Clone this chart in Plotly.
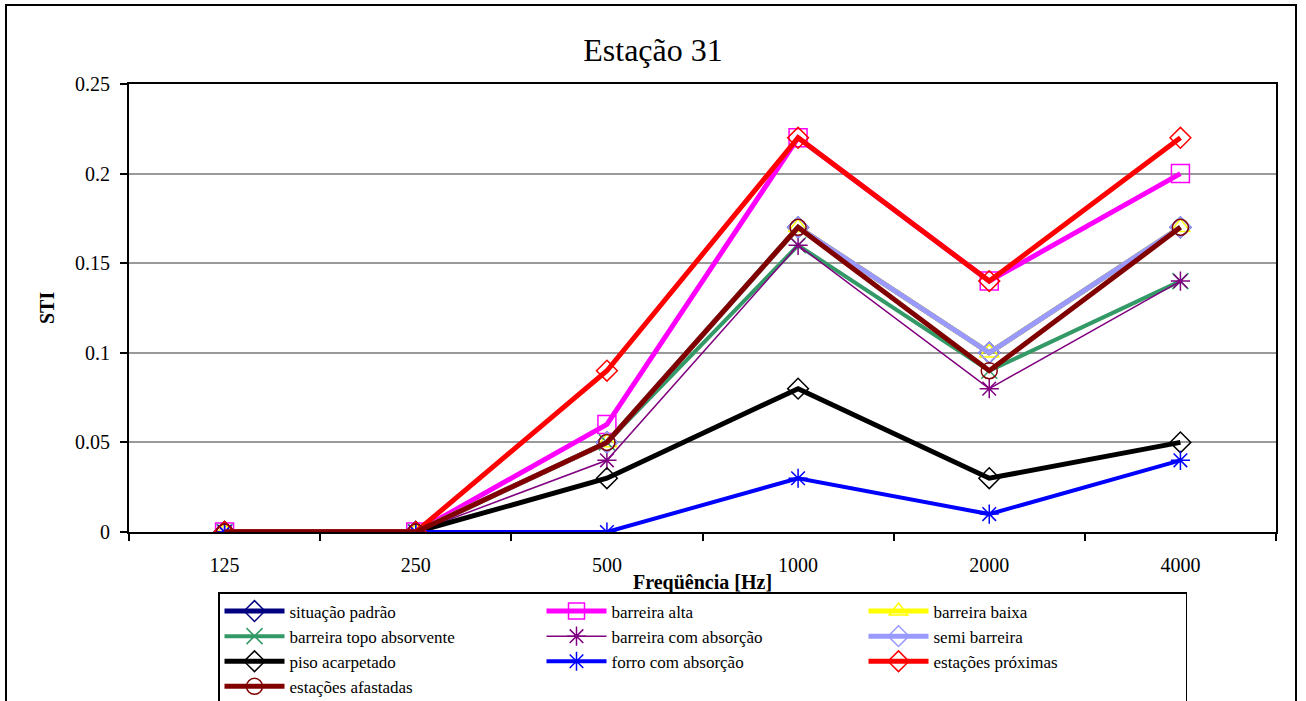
import plotly.graph_objects as go

freqs = ["125", "250", "500", "1000", "2000", "4000"]

situacao_padrao = [0, 0, 0.05, 0.17, 0.10, 0.17]
barreira_alta = [0, 0, 0.06, 0.22, 0.14, 0.20]
barreira_baixa = [0, 0, 0.05, 0.17, 0.10, 0.17]
barreira_topo_absorvente = [0, 0, 0.05, 0.16, 0.09, 0.14]
barreira_com_absorcao = [0, 0, 0.04, 0.16, 0.08, 0.14]
semi_barreira = [0, 0, 0.05, 0.17, 0.10, 0.17]
piso_acarpetado = [0, 0, 0.03, 0.08, 0.03, 0.05]
forro_com_absorcao = [0, 0, 0.00, 0.03, 0.01, 0.04]
estacoes_proximas = [0, 0, 0.09, 0.22, 0.14, 0.22]
estacoes_afastadas = [0, 0, 0.05, 0.17, 0.09, 0.17]

series = [
    ("situação padrão", situacao_padrao, "#000080", "diamond-open", 5, 16),
    ("barreira alta", barreira_alta, "#FF00FF", "square-open", 5, 18),
    ("barreira baixa", barreira_baixa, "#FFFF00", "triangle-up-open", 5, 17),
    ("barreira topo absorvente", barreira_topo_absorvente, "#339966", "x-thin-open", 4, 16),
    ("barreira com absorção", barreira_com_absorcao, "#800080", "asterisk-open", 1.5, 16),
    ("semi barreira", semi_barreira, "#9999FF", "diamond-open", 5, 16),
    ("piso acarpetado", piso_acarpetado, "#000000", "diamond-open", 5, 16),
    ("forro com absorção", forro_com_absorcao, "#0000FF", "asterisk-open", 4, 16),
    ("estações próximas", estacoes_proximas, "#FF0000", "diamond-open", 5, 16),
    ("estações afastadas", estacoes_afastadas, "#800000", "circle-open", 5, 16),
]

FONT = "Liberation Serif, Times New Roman, serif"

fig = go.Figure()
for name, vals, color, sym, lw, ms in series:
    fig.add_trace(go.Scatter(
        x=freqs, y=vals, name=name, mode="lines+markers",
        line=dict(color=color, width=lw),
        marker=dict(symbol=sym, size=ms, color=color, line=dict(color=color, width=1.5)),
    ))

fig.update_layout(
    width=1306, height=701,
    margin=dict(l=129, r=30, t=84, b=169, autoexpand=False),
    paper_bgcolor="white", plot_bgcolor="white",
    font=dict(family=FONT, size=20, color="black"),
    title=dict(text="Estação 31", x=0.5, xanchor="center", y=1 - 50 / 701, yanchor="middle",
               font=dict(family=FONT, size=32, color="black")),
    showlegend=True,
    legend=dict(
        orientation="h", x=0.5, xanchor="center", y=-60 / 448, yanchor="top",
        bordercolor="black", borderwidth=1.5, bgcolor="white",
        font=dict(family=FONT, size=17, color="black"),
        itemwidth=60, entrywidth=247, entrywidthmode="pixels",
        traceorder="normal", itemclick=False,
    ),
    xaxis=dict(
        type="category", categoryorder="array", categoryarray=freqs,
        range=[-0.5, 5.5], autorange=False,
        showline=True, linecolor="black", linewidth=2, mirror=True,
        ticks="outside", ticklen=7, tickwidth=2, tickcolor="black", tickson="boundaries",
        showgrid=False, zeroline=False, ticklabelstandoff=14,
        tickfont=dict(family=FONT, size=20, color="black"),
    ),
    yaxis=dict(
        range=[0, 0.25], tickvals=[0, 0.05, 0.1, 0.15, 0.2, 0.25],
        ticktext=["0", "0.05", "0.1", "0.15", "0.2", "0.25"],
        showline=True, linecolor="black", linewidth=2, mirror=True,
        ticks="outside", ticklen=7, tickwidth=2, tickcolor="black",
        showgrid=True, gridcolor="#999999", gridwidth=1.5, zeroline=False,
        ticklabelstandoff=6,
        tickfont=dict(family=FONT, size=20, color="black"),
    ),
    annotations=[
        dict(text="<b>STI</b>", xref="paper", yref="paper", x=(47 - 129) / 1147, y=0.5,
             xanchor="center", yanchor="middle", textangle=-90, showarrow=False,
             font=dict(family=FONT, size=20, color="black")),
        dict(text="<b>Freqüência [Hz]</b>", xref="paper", yref="paper", x=0.5, y=(532 - 582) / 448,
             xanchor="center", yanchor="middle", showarrow=False,
             font=dict(family=FONT, size=20, color="black")),
    ],
    shapes=[
        dict(type="rect", xref="paper", yref="paper",
             x0=(6 - 129) / 1147, x1=(1296 - 129) / 1147,
             y0=(532 - 720) / 448, y1=(532 - 5) / 448,
             line=dict(color="black", width=2), fillcolor="rgba(0,0,0,0)", layer="below"),
    ],
)

fig.write_html("out.html", config={"displayModeBar": False},
               post_script="document.body.style.margin='0px';")
